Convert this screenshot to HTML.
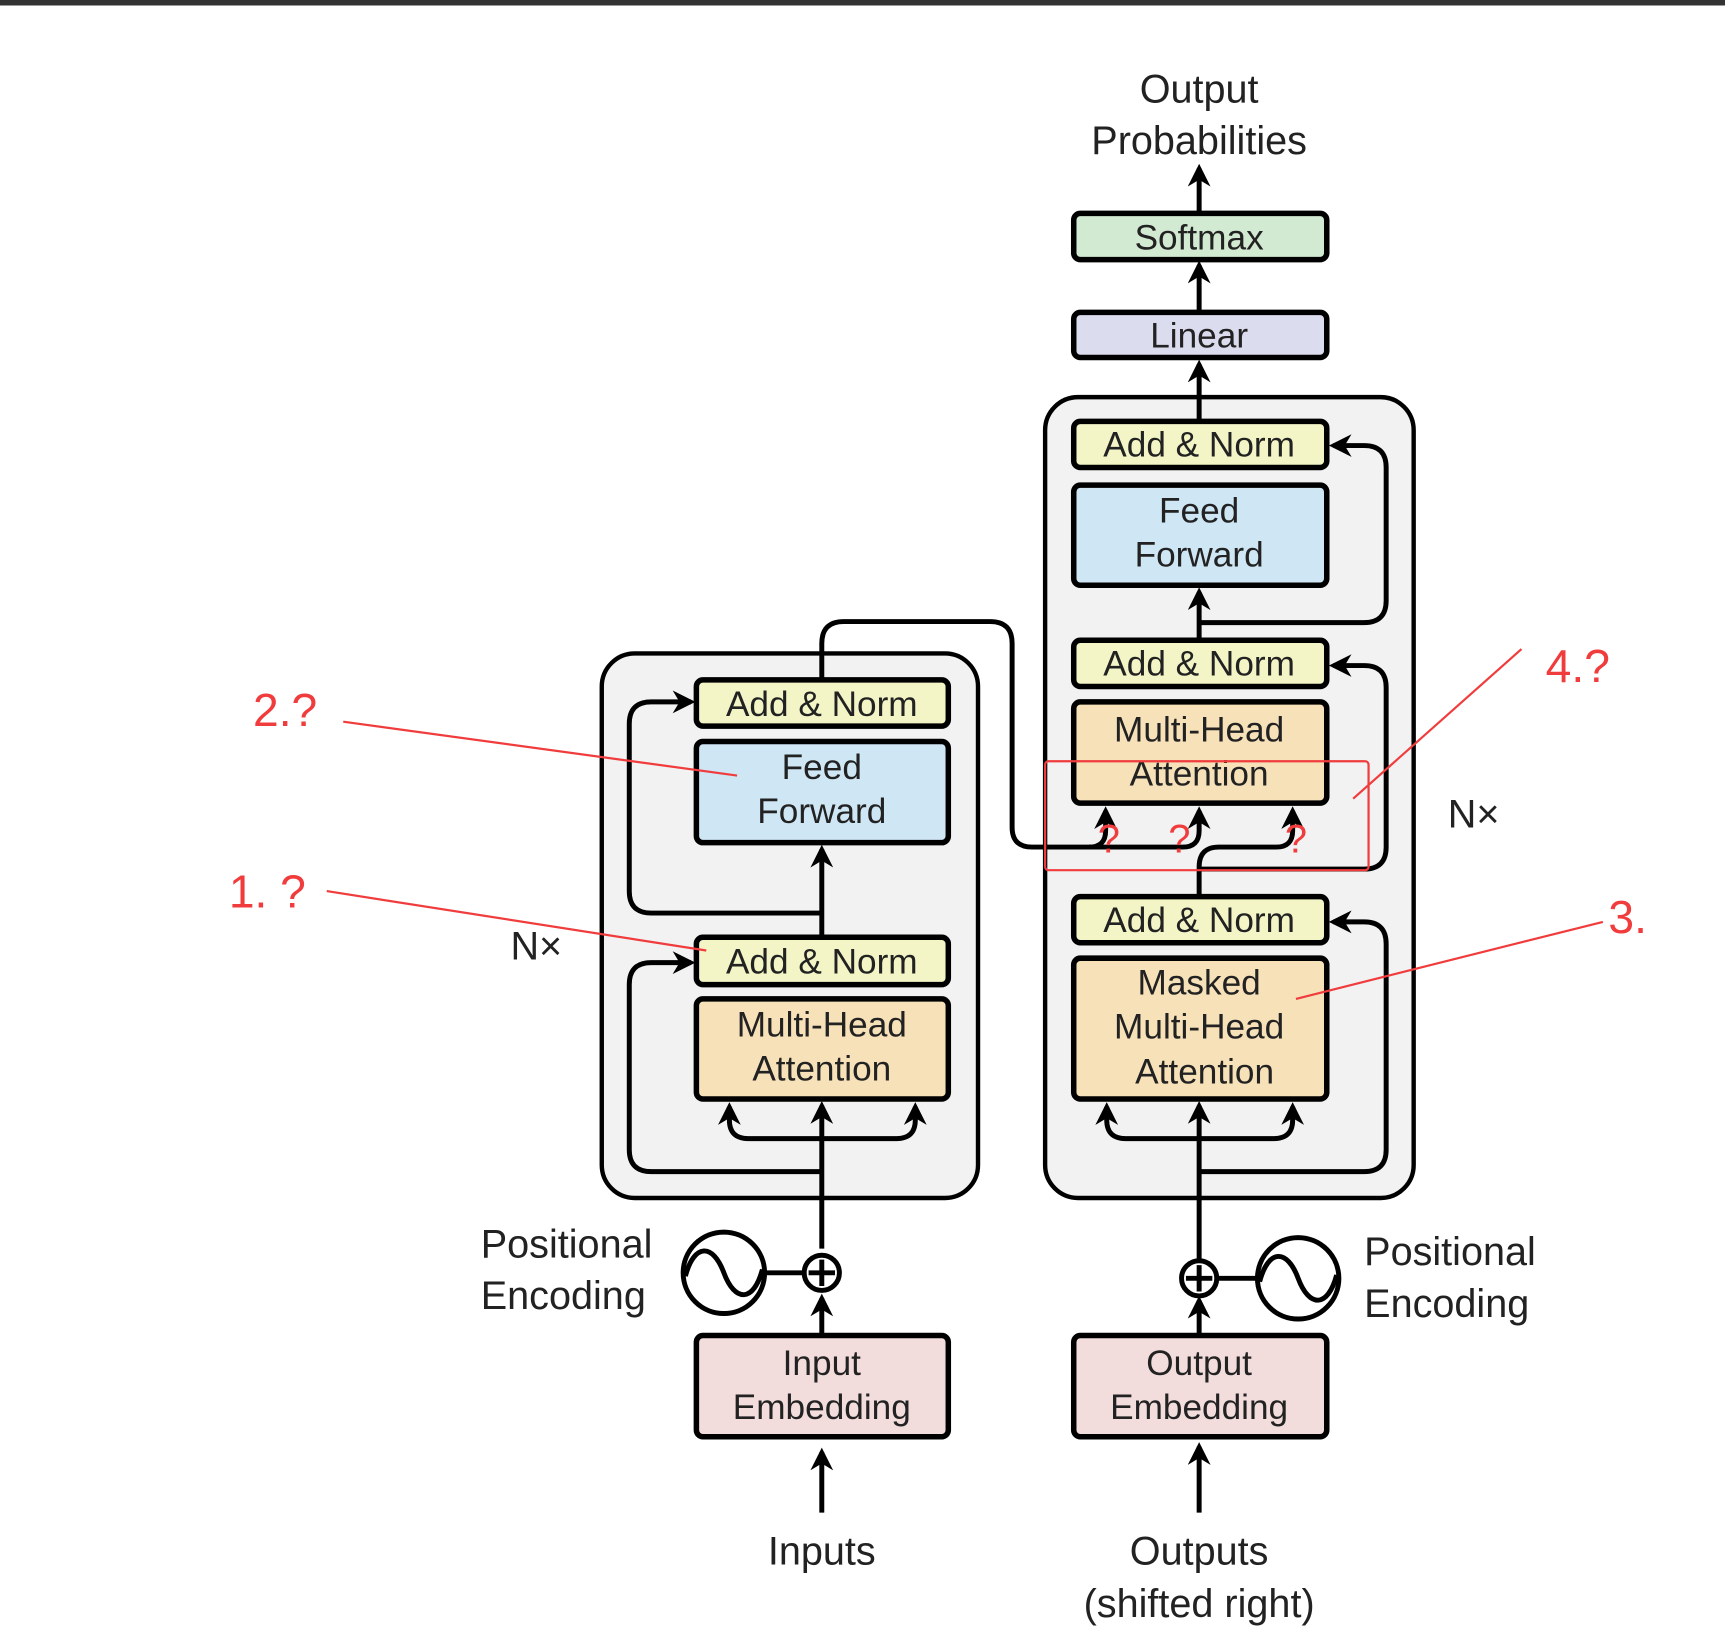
<!DOCTYPE html>
<html><head><meta charset="utf-8"><style>
html,body{margin:0;padding:0;background:#fff;}
svg{display:block;}
text{font-family:"Liberation Sans",sans-serif;fill:#222;}
</style></head><body>
<svg width="1725" height="1643" viewBox="0 0 1568 1493.5" preserveAspectRatio="none" xmlns="http://www.w3.org/2000/svg">
<defs>
<marker id="ar" viewBox="0 0 10 10" refX="8" refY="5" markerWidth="4.6" markerHeight="4.6" orient="auto-start-reverse"><path d="M0,0 L10,5 L0,10 L3,5 z" fill="#000"/></marker>
</defs>
<rect x="0" y="0" width="1568" height="5" fill="#333"/>
<rect x="547" y="594" width="342" height="495" rx="30" fill="#f2f2f2" stroke="#000" stroke-width="4"/>
<rect x="950" y="361" width="335" height="728" rx="30" fill="#f2f2f2" stroke="#000" stroke-width="4"/>
<g stroke="#000" stroke-width="4.5" fill="none">
<path d="M747 1375 V1320" marker-end="url(#ar)"/>
<path d="M747 1212 V1180" marker-end="url(#ar)"/>
<path d="M747 1135 V1005" marker-end="url(#ar)"/>
<path d="M695 1157 H730"/>
<path d="M747 1035 H680 q-17 0 -17 -17 V1006" marker-end="url(#ar)"/>
<path d="M747 1035 H815 q17 0 17 -17 V1006" marker-end="url(#ar)"/>
<path d="M747 1065 H592 q-20 0 -20 -20 V895 q0 -20 20 -20 H628" marker-end="url(#ar)"/>
<path d="M747 852 V772" marker-end="url(#ar)"/>
<path d="M747 830 H592 q-20 0 -20 -20 V658 q0 -20 20 -20 H628" marker-end="url(#ar)"/>
<path d="M747 618 V585 q0 -20 20 -20 H900 q20 0 20 20 V752 q0 18 18 18 H990 q15 0 15 -15 V737" marker-end="url(#ar)"/>
<path d="M990 770 H1075 q15 0 15 -15 V737" marker-end="url(#ar)"/>
<path d="M1090 1375 V1315" marker-end="url(#ar)"/>
<path d="M1090 1212 V1182" marker-end="url(#ar)"/>
<path d="M1090 1145 V1005" marker-end="url(#ar)"/>
<path d="M1107 1162 H1145"/>
<path d="M1090 1035 H1023 q-17 0 -17 -17 V1006" marker-end="url(#ar)"/>
<path d="M1090 1035 H1158 q17 0 17 -17 V1006" marker-end="url(#ar)"/>
<path d="M1090 1065 H1240 q20 0 20 -20 V858 q0 -20 -20 -20 H1212" marker-end="url(#ar)"/>
<path d="M1090 815 V788 q0 -18 18 -18 H1160 q15 0 15 -15 V737" marker-end="url(#ar)"/>
<path d="M1090 790 H1240 q20 0 20 -20 V625 q0 -20 -20 -20 H1212" marker-end="url(#ar)"/>
<path d="M1090 582 V538" marker-end="url(#ar)"/>
<path d="M1090 566 H1240 q20 0 20 -20 V425 q0 -20 -20 -20 H1212" marker-end="url(#ar)"/>
<path d="M1090 383 V331" marker-end="url(#ar)"/>
<path d="M1090 284 V241" marker-end="url(#ar)"/>
<path d="M1090 194 V153" marker-end="url(#ar)"/>
<circle cx="747" cy="1157" r="16" fill="#fff"/>
<path d="M735 1157 H759 M747 1145 V1169"/>
<circle cx="658" cy="1157" r="37" fill="#fff"/>
<path d="M623 1160 c8 -30 25 -30 35 -3 s27 27 35 -3"/>
<circle cx="1090" cy="1162" r="16" fill="#fff"/>
<path d="M1078 1162 H1102 M1090 1150 V1174"/>
<circle cx="1180" cy="1162" r="37" fill="#fff"/>
<path d="M1145 1165 c8 -30 25 -30 35 -3 s27 27 35 -3"/>
</g>
<g stroke="#000" stroke-width="5">
<rect x="633" y="618" width="229" height="42" rx="6" fill="#f3f5c6"/>
<rect x="633" y="674" width="229" height="92" rx="6" fill="#cfe6f5"/>
<rect x="633" y="852" width="229" height="43" rx="6" fill="#f3f5c6"/>
<rect x="633" y="908" width="229" height="91" rx="6" fill="#f7e1b9"/>
<rect x="633" y="1214" width="229" height="92" rx="6" fill="#f3dcdc"/>
<rect x="976" y="194" width="230" height="42" rx="6" fill="#d3ead2"/>
<rect x="976" y="284" width="230" height="41" rx="6" fill="#dcdcef"/>
<rect x="976" y="383" width="230" height="42" rx="6" fill="#f3f5c6"/>
<rect x="976" y="441" width="230" height="91" rx="6" fill="#cfe6f5"/>
<rect x="976" y="582" width="230" height="42" rx="6" fill="#f3f5c6"/>
<rect x="976" y="638" width="230" height="92" rx="6" fill="#f7e1b9"/>
<rect x="976" y="815" width="230" height="42" rx="6" fill="#f3f5c6"/>
<rect x="976" y="871" width="230" height="128" rx="6" fill="#f7e1b9"/>
<rect x="976" y="1214" width="230" height="92" rx="6" fill="#f3dcdc"/>
</g>
<g font-size="32" text-anchor="middle">
<text x="747" y="651">Add &amp; Norm</text>
<text x="747" y="708">Feed</text><text x="747" y="748">Forward</text>
<text x="747" y="885">Add &amp; Norm</text>
<text x="747" y="942">Multi-Head</text><text x="747" y="982">Attention</text>
<text x="747" y="1250">Input</text><text x="747" y="1290">Embedding</text>
<text x="1090" y="227">Softmax</text>
<text x="1090" y="316">Linear</text>
<text x="1090" y="415">Add &amp; Norm</text>
<text x="1090" y="475">Feed</text><text x="1090" y="515">Forward</text>
<text x="1090" y="614">Add &amp; Norm</text>
<text x="1090" y="674">Multi-Head</text><text x="1090" y="714">Attention</text>
<text x="1090" y="847">Add &amp; Norm</text>
<text x="1090" y="904">Masked</text><text x="1090" y="944">Multi-Head</text><text x="1095" y="985">Attention</text>
<text x="1090" y="1250">Output</text><text x="1090" y="1290">Embedding</text>
<text x="747" y="1422" font-size="36">Inputs</text>
<text x="1090" y="1422" font-size="36">Outputs</text>
<text x="1090" y="1470" font-size="36">(shifted right)</text>
<text x="1090" y="93" font-size="36">Output</text>
<text x="1090" y="140" font-size="36">Probabilities</text>
</g>
<g font-size="36">
<text x="437" y="1143">Positional</text><text x="437" y="1190">Encoding</text>
<text x="1240" y="1150">Positional</text><text x="1240" y="1197">Encoding</text>
<text x="464" y="872">N×</text>
<text x="1316" y="752">N×</text>
</g>
<g stroke="#f03c3c" stroke-width="2" fill="none">
<rect x="950" y="692" width="294" height="99" rx="3"/>
<path d="M312 656 L670 705"/>
<path d="M297 810 L642 864"/>
<path d="M1383 590 L1230 726"/>
<path d="M1457 838 L1178 908"/>
</g>
<g font-size="42" font-family="Liberation Sans,sans-serif">
<text x="230" y="660" style="fill:#f03c3c">2.?</text>
<text x="208" y="825" style="fill:#f03c3c">1. ?</text>
<text x="1405" y="620" style="fill:#f03c3c">4.?</text>
<text x="1462" y="848" style="fill:#f03c3c">3.</text>
<text x="998" y="775" font-size="36" style="fill:#f03c3c">?</text>
<text x="1062" y="775" font-size="36" style="fill:#f03c3c">?</text>
<text x="1168" y="775" font-size="36" style="fill:#f03c3c">?</text>
</g>
</svg>
</body></html>
